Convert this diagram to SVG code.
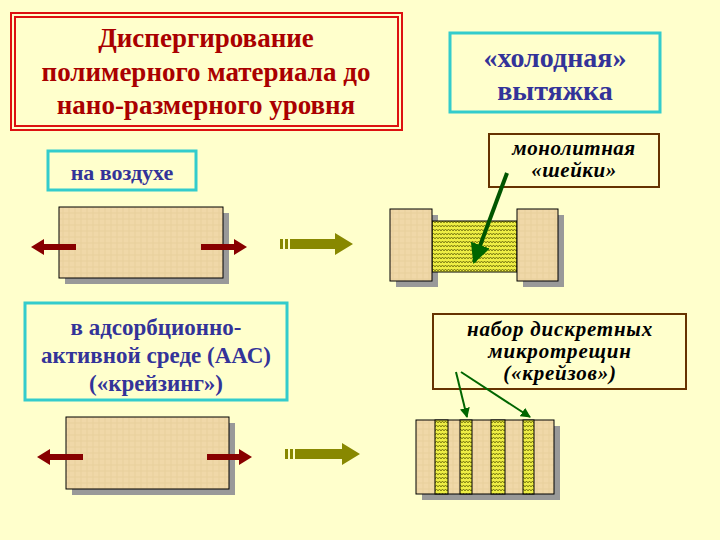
<svg xmlns="http://www.w3.org/2000/svg" width="720" height="540" viewBox="0 0 720 540">
<defs>
<style>
.t{font-family:"Liberation Serif",serif;font-weight:bold;text-anchor:middle}
.cy{fill:#FFFFCC;stroke:#33CCCC;stroke-width:3}
.br{fill:#FFFFCC;stroke:#663300;stroke-width:2}
.tex{fill:url(#pap);stroke:#000;stroke-width:1}
.sh{fill:#999}
.zz{fill:url(#zig);stroke:#000;stroke-width:1}
</style>
<pattern id="pap" width="6" height="6" patternUnits="userSpaceOnUse">
<rect width="6" height="6" fill="#F0D8A8"/><path d="M0 3H6M3 0V6" stroke="#E8D09C" stroke-width="1"/>
</pattern>
<pattern id="zig" width="6" height="4" patternUnits="userSpaceOnUse">
<rect width="6" height="4" fill="#EEEE44"/><path d="M0 3L1.5 1L3 3L4.5 1L6 3" fill="none" stroke="#555500" stroke-width="0.7"/>
</pattern>
<marker id="ar" viewBox="0 0 10 10" refX="9" refY="5" markerWidth="5" markerHeight="5" orient="auto"><path d="M0 0L10 5L0 10z" fill="#006600"/></marker>
</defs>
<rect width="720" height="540" fill="#FFFFCC"/>
<g id="title">
<rect x="11" y="13" width="391" height="117" fill="#FFFFCC" stroke="#DD1111" stroke-width="2"/>
<rect x="15" y="17" width="383" height="109" fill="none" stroke="#DD1111" stroke-width="2"/>
<text class="t" font-size="27" fill="#AA0000"><tspan x="206" y="47">Диспергирование</tspan><tspan x="206" y="81">полимерного материала до</tspan><tspan x="206" y="114">нано-размерного уровня</tspan></text>
</g>
<g id="cold"><rect class="cy" x="450" y="33" width="210" height="79"/>
<text class="t" font-size="28" fill="#333399"><tspan x="555" y="67">«холодная»</tspan><tspan x="555" y="100">вытяжка</tspan></text></g>
<g id="neck"><rect class="br" x="489" y="134" width="170" height="53"/>
<text class="t" font-size="21" font-style="italic" fill="#000" letter-spacing="0.5"><tspan x="574" y="155">монолитная</tspan><tspan x="574" y="177">«шейки»</tspan></text></g>
<g id="air"><rect class="cy" x="48" y="151" width="148" height="39"/>
<text class="t" x="122" y="180" font-size="22" fill="#333399">на воздухе</text></g>
<g id="aac"><rect class="cy" x="25" y="303" width="262" height="97"/>
<text class="t" font-size="23" fill="#333399"><tspan x="156" y="335">в адсорбционно-</tspan><tspan x="156" y="363">активной среде (ААС)</tspan><tspan x="156" y="391">(«крейзинг»)</tspan></text></g>
<g id="craz"><rect class="br" x="433" y="314" width="253" height="75"/>
<text class="t" font-size="21" font-style="italic" fill="#000" letter-spacing="0.8"><tspan x="560" y="336">набор дискретных</tspan><tspan x="560" y="358">микротрещин</tspan><tspan x="560" y="380">(«крейзов»)</tspan></text></g>
<g id="sample1"><rect class="sh" x="65" y="213" width="164" height="71"/><rect class="tex" x="59" y="207" width="164" height="71"/></g>
<g id="sample2"><rect class="sh" x="72" y="423" width="163" height="72"/><rect class="tex" x="66" y="417" width="163" height="72"/></g>
<g id="neckSample">
<rect class="sh" x="396" y="215" width="42" height="72"/><rect class="sh" x="523" y="215" width="41" height="72"/>
<rect class="zz" x="432" y="221" width="85" height="51"/>
<rect class="tex" x="390" y="209" width="42" height="72"/><rect class="tex" x="517" y="209" width="41" height="72"/>
</g>
<g id="crazeSample">
<rect class="sh" x="422" y="426" width="138" height="74"/>
<rect class="tex" x="416" y="420" width="138" height="74"/>
<rect class="zz" x="435" y="420" width="13" height="74"/><rect class="zz" x="460" y="420" width="12" height="74"/>
<rect class="zz" x="491" y="420" width="14" height="74"/><rect class="zz" x="523" y="420" width="11" height="74"/>
</g>
<g id="connectors">
<g fill="#880000">
<path d="M76 244H44V239L31 247L44 255V250H76z"/><path d="M201 244H234V239L247 247L234 255V250H201z"/>
<path d="M83 454H50V449L37 457L50 465V460H83z"/><path d="M207 454H239V449L252 457L239 465V460H207z"/>
</g>
<g fill="#888800">
<rect x="280" y="239" width="3" height="10"/><rect x="285" y="239" width="3" height="10"/><path d="M290 239H335V233L353 244L335 255V249H290z"/>
<rect x="285" y="449" width="3" height="10"/><rect x="290" y="449" width="3" height="10"/><path d="M295 449H342V443L360 454L342 465V459H295z"/>
</g>
<line x1="507" y1="173" x2="474" y2="262" stroke="#005500" stroke-width="4" marker-end="url(#ar)"/>
<line x1="456" y1="372" x2="467" y2="417" stroke="#006600" stroke-width="2" marker-end="url(#ar)"/>
<line x1="461" y1="372" x2="530" y2="417" stroke="#006600" stroke-width="2" marker-end="url(#ar)"/>
</g>
</svg>
